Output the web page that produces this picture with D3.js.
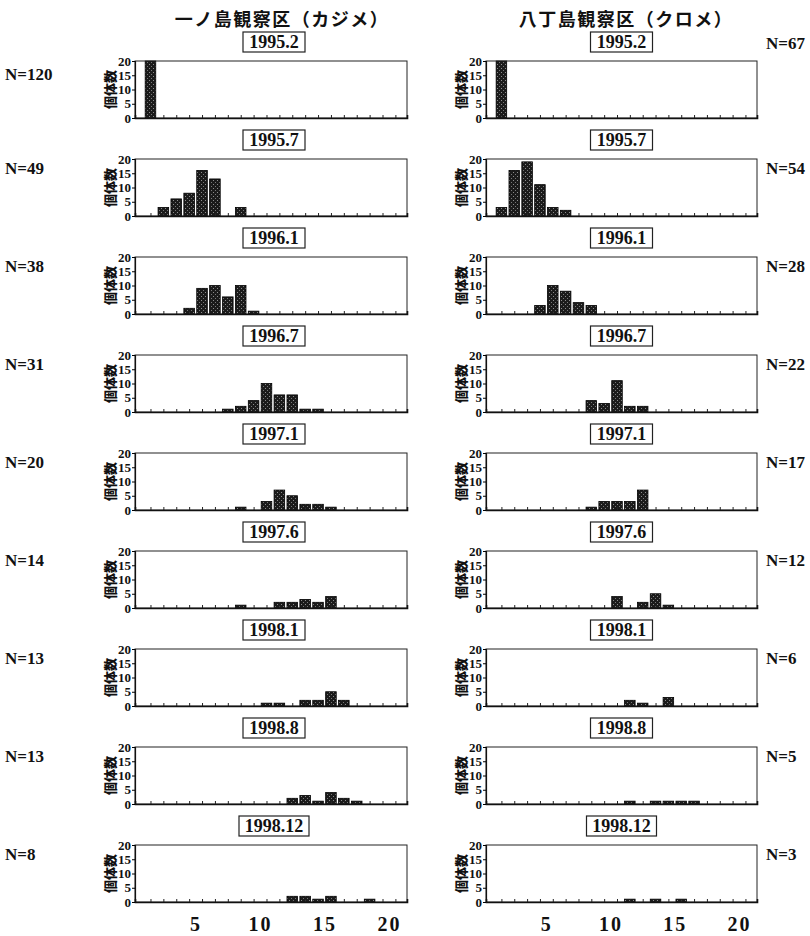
<!DOCTYPE html>
<html>
<head>
<meta charset="utf-8">
<script src="https://cdn.jsdelivr.net/npm/d3@7"></script>
<style>
  html, body { margin: 0; padding: 0; background: #fff; }
  svg { display: block; }
</style>
</head>
<body>
<svg id="chart" width="810" height="936"></svg>
<script>
// Size-class frequency distributions at two observation plots
const sizeClasses = [1, 2, 3, 4, 5, 6, 7, 8, 9, 10, 11, 12, 13, 14, 15, 16, 17, 18, 19, 20];
const surveyDates = ["1995.2", "1995.7", "1996.1", "1996.7", "1997.1", "1997.6", "1998.1", "1998.8", "1998.12"];
const plotTitles = ["一ノ島観察区（カジメ）", "八丁島観察区（クロメ）"];
const yTicks = [0, 5, 10, 15, 20];
const xLabelTicks = [5, 10, 15, 20];
const yLabel = "個体数";

// 一ノ島 (カジメ): total individuals per survey and counts per size class
const nIchinoshima = [120, 49, 38, 31, 20, 14, 13, 13, 8];
const countsIchinoshima = [
  [120, 0, 0, 0, 0, 0, 0, 0, 0, 0, 0, 0, 0, 0, 0, 0, 0, 0, 0, 0],
  [0, 3, 6, 8, 16, 13, 0, 3, 0, 0, 0, 0, 0, 0, 0, 0, 0, 0, 0, 0],
  [0, 0, 0, 2, 9, 10, 6, 10, 1, 0, 0, 0, 0, 0, 0, 0, 0, 0, 0, 0],
  [0, 0, 0, 0, 0, 0, 1, 2, 4, 10, 6, 6, 1, 1, 0, 0, 0, 0, 0, 0],
  [0, 0, 0, 0, 0, 0, 0, 1, 0, 3, 7, 5, 2, 2, 1, 0, 0, 0, 0, 0],
  [0, 0, 0, 0, 0, 0, 0, 1, 0, 0, 2, 2, 3, 2, 4, 0, 0, 0, 0, 0],
  [0, 0, 0, 0, 0, 0, 0, 0, 0, 1, 1, 0, 2, 2, 5, 2, 0, 0, 0, 0],
  [0, 0, 0, 0, 0, 0, 0, 0, 0, 0, 0, 2, 3, 1, 4, 2, 1, 0, 0, 0],
  [0, 0, 0, 0, 0, 0, 0, 0, 0, 0, 0, 2, 2, 1, 2, 0, 0, 1, 0, 0]
];

// 八丁島 (クロメ)
const nHacchojima = [67, 54, 28, 22, 17, 12, 6, 5, 3];
const countsHacchojima = [
  [67, 0, 0, 0, 0, 0, 0, 0, 0, 0, 0, 0, 0, 0, 0, 0, 0, 0, 0, 0],
  [3, 16, 19, 11, 3, 2, 0, 0, 0, 0, 0, 0, 0, 0, 0, 0, 0, 0, 0, 0],
  [0, 0, 0, 3, 10, 8, 4, 3, 0, 0, 0, 0, 0, 0, 0, 0, 0, 0, 0, 0],
  [0, 0, 0, 0, 0, 0, 0, 4, 3, 11, 2, 2, 0, 0, 0, 0, 0, 0, 0, 0],
  [0, 0, 0, 0, 0, 0, 0, 1, 3, 3, 3, 7, 0, 0, 0, 0, 0, 0, 0, 0],
  [0, 0, 0, 0, 0, 0, 0, 0, 0, 4, 0, 2, 5, 1, 0, 0, 0, 0, 0, 0],
  [0, 0, 0, 0, 0, 0, 0, 0, 0, 0, 2, 1, 0, 3, 0, 0, 0, 0, 0, 0],
  [0, 0, 0, 0, 0, 0, 0, 0, 0, 0, 1, 0, 1, 1, 1, 1, 0, 0, 0, 0],
  [0, 0, 0, 0, 0, 0, 0, 0, 0, 0, 1, 0, 1, 0, 1, 0, 0, 0, 0, 0]
];

const NUM_FONT = "'Liberation Serif', 'Times New Roman', 'DejaVu Serif', serif";
const JP_FONT = "'Noto Sans CJK JP', 'Noto Sans CJK SC', sans-serif";

// ---- layout ----
const svg = d3.select("#chart");
const firstTop = 61, rowStep = 98, panelH = 57;
const columns = [
  { left: 135, width: 272, title: plotTitles[0], titleX: 282, n: nIchinoshima, counts: countsIchinoshima, nX: 5 },
  { left: 486, width: 271, title: plotTitles[1], titleX: 626, n: nHacchojima, counts: countsHacchojima, nX: 766 }
];

function numText(sel, size) {
  return sel.style("font-family", NUM_FONT).style("font-weight", "bold")
    .style("font-size", size + "px").style("fill", "#111");
}

// stippled fill used by the bars
const defs = svg.append("defs");
const pat = defs.append("pattern")
  .attr("id", "stipple").attr("patternUnits", "userSpaceOnUse")
  .attr("width", 4).attr("height", 4);
pat.append("rect").attr("width", 4).attr("height", 4).attr("fill", "#1b1b1b");
pat.append("rect").attr("x", 1).attr("y", 0).attr("width", 1).attr("height", 1).attr("fill", "#8c8c8c");
pat.append("rect").attr("x", 3).attr("y", 2).attr("width", 1).attr("height", 1).attr("fill", "#777");

const y = d3.scaleLinear().domain([0, 20]).clamp(true);

columns.forEach((col, ci) => {
  const x = d3.scaleLinear().domain([0.3, 21.4]).range([col.left, col.left + col.width]);
  const bw = (x(1) - x(0)) * 0.82;

  svg.append("text")
    .attr("x", col.titleX).attr("y", 26)
    .attr("text-anchor", "middle")
    .style("font-family", JP_FONT).style("font-weight", "bold")
    .style("font-size", "18px").style("fill", "#111")
    .style("letter-spacing", "1.5px")
    .text(col.title);

  surveyDates.forEach((date, ri) => {
    const top = firstTop + rowStep * ri;
    const bottom = top + panelH;
    y.range([bottom, top]);
    const g = svg.append("g");

    // survey date tag
    const cx = col.left + col.width / 2 + (ci === 0 ? 3 : 0);
    const tagW = date.length > 6 ? 70 : 62;
    g.append("rect")
      .attr("x", cx - tagW / 2).attr("y", top - 29)
      .attr("width", tagW).attr("height", 20)
      .attr("fill", "#fff").attr("stroke", "#222").attr("stroke-width", 1.2);
    numText(g.append("text"), 18)
      .attr("x", cx).attr("y", top - 13)
      .attr("text-anchor", "middle")
      .text(date);

    // bars
    const data = sizeClasses.map((k, i) => ({ k, v: col.counts[ri][i] })).filter(d => d.v > 0);
    g.selectAll("rect.bar").data(data).join("rect")
      .attr("class", "bar")
      .attr("x", d => x(d.k + 0.5) - bw / 2)
      .attr("width", bw)
      .attr("y", d => y(d.v))
      .attr("height", d => bottom - y(d.v))
      .attr("fill", "url(#stipple)")
      .attr("stroke", "#000").attr("stroke-width", 0.8);

    // frame
    g.append("rect")
      .attr("x", col.left).attr("y", top)
      .attr("width", col.width).attr("height", panelH)
      .attr("fill", "none").attr("stroke", "#222").attr("stroke-width", 1);

    // x axis: a tick at every size class, pointing inward
    const xa = g.append("g").attr("transform", `translate(0,${bottom})`)
      .call(d3.axisBottom(x).tickValues(sizeClasses.map(k => k + 0.5)).tickSize(-3).tickFormat(""));
    xa.select(".domain").attr("stroke", "#111").attr("stroke-width", 1.6);
    xa.selectAll(".tick line").attr("stroke", "#222");

    // y axis
    const ya = g.append("g").attr("transform", `translate(${col.left},0)`)
      .call(d3.axisLeft(y).tickValues(yTicks).tickSize(3).tickPadding(1));
    ya.select(".domain").attr("stroke", "#111").attr("stroke-width", 1.2);
    numText(ya.selectAll(".tick text"), 13);

    // y label
    g.append("text")
      .attr("transform", `translate(${col.left - 25},${(top + bottom) / 2}) rotate(-90)`)
      .attr("dy", "0.35em")
      .attr("text-anchor", "middle")
      .style("font-family", JP_FONT).style("font-weight", "900")
      .style("font-size", "13px").style("fill", "#111")
      .text(yLabel);

    // sample size
    const nY = ri === 0 ? (ci === 0 ? top + 19 : top - 12) : top + 15;
    numText(g.append("text"), 17)
      .attr("x", col.nX).attr("y", nY)
      .text("N=" + col.n[ri]);

    // size labels under the last row
    if (ri === surveyDates.length - 1) {
      const lab = g.append("g").attr("transform", `translate(0,${bottom})`)
        .call(d3.axisBottom(x).tickValues(xLabelTicks).tickSize(0).tickPadding(15));
      lab.select(".domain").remove();
      numText(lab.selectAll(".tick text"), 20).style("letter-spacing", "2px");
    }
  });
});
</script>
</body>
</html>
